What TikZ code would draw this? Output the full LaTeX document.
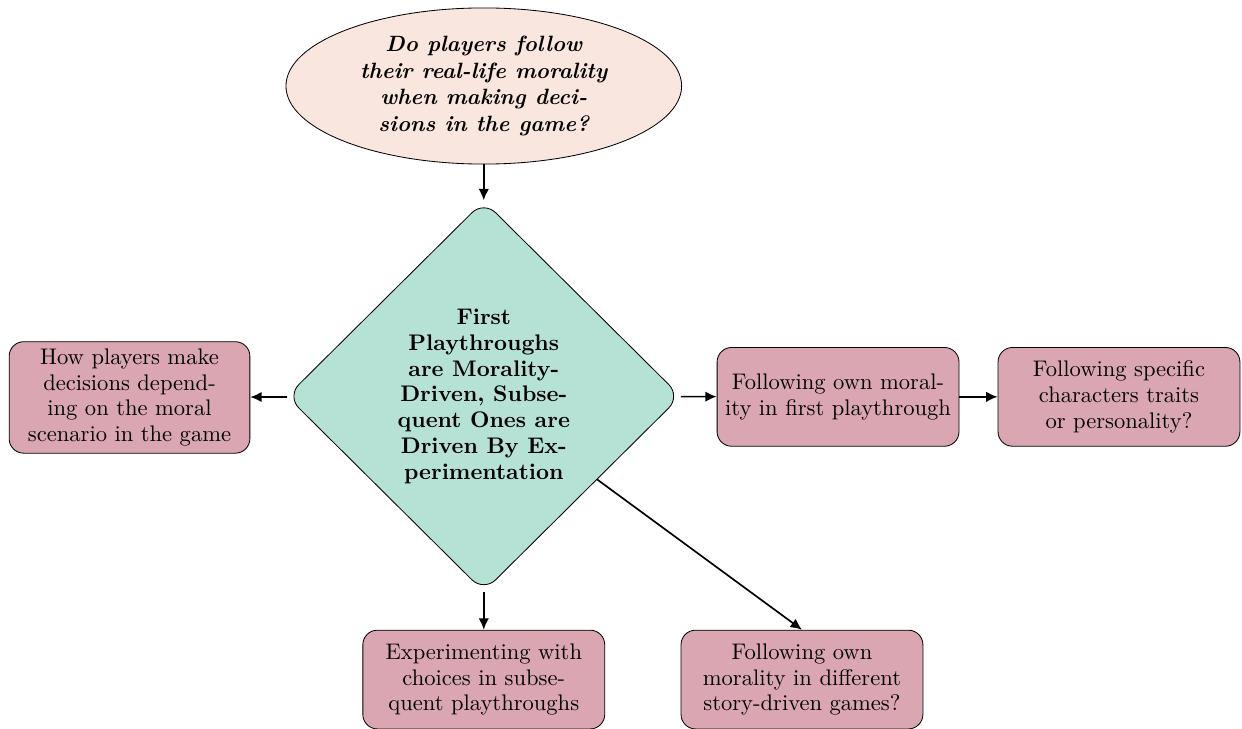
\documentclass[tikz,border=0pt]{standalone}
\usetikzlibrary{shapes.geometric,arrows.meta}
\definecolor{questionfill}{HTML}{F9E6DF}
\definecolor{hubfill}{HTML}{B5E2D4}
\definecolor{topicfill}{HTML}{D9A6B1}
\newcommand{\labelsize}{\fontsize{10.85}{12.4}\selectfont}
\tikzset{
  question/.style={ellipse, draw, fill=questionfill, minimum width=6.69cm,
    minimum height=2.64cm, inner sep=0pt, align=center,
    font=\fontsize{10.65}{12.8}\selectfont\bfseries\itshape},
  hub/.style={diamond, draw, fill=hubfill, minimum width=6.66cm,
    minimum height=6.61cm, inner sep=0pt, rounded corners=8pt, align=center,
    font=\labelsize\bfseries},
  topic/.style={rectangle, draw, fill=topicfill, rounded corners=7pt,
    minimum width=4.09cm, minimum height=1.67cm, align=center,
    font=\labelsize},
  link/.style={thick, -{Latex[length=5.5pt,width=5pt]}}
}
\begin{document}
\begin{tikzpicture}
\useasboundingbox (0,0) rectangle (21,-12.326);

\node[question] (q) at (8.18,-1.454)
  {Do players follow\\their real-life morality\\when making deci-\\sions in the game?};

\node[hub] (h) at (8.18,-6.70)
  {First\\Playthroughs\\are Morality-\\Driven, Subse-\\quent Ones are\\Driven By Ex-\\perimentation};

\node[topic, minimum width=4.07cm] (l) at (2.19,-6.72)
  {How players make\\decisions depend-\\ing on the moral\\scenario in the game};

\node[topic] (r1) at (14.17,-6.71)
  {Following own moral-\\ity in first playthrough};

\node[topic] (r2) at (18.92,-6.71)
  {Following specific\\characters traits\\or personality?};

\node[topic] (b1) at (8.18,-11.49)
  {Experimenting with\\choices in subse-\\quent playthroughs};

\node[topic] (b2) at (13.56,-11.49)
  {Following own\\morality in different\\story-driven games?};

\draw[link] (q) -- (h);
\draw[link] (h) -- (l);
\draw[link] (h) -- (r1);
\draw[link] (r1) -- (r2);
\draw[link] (h) -- (b1);
\draw[link] (h) -- (b2.north);
\end{tikzpicture}
\end{document}
